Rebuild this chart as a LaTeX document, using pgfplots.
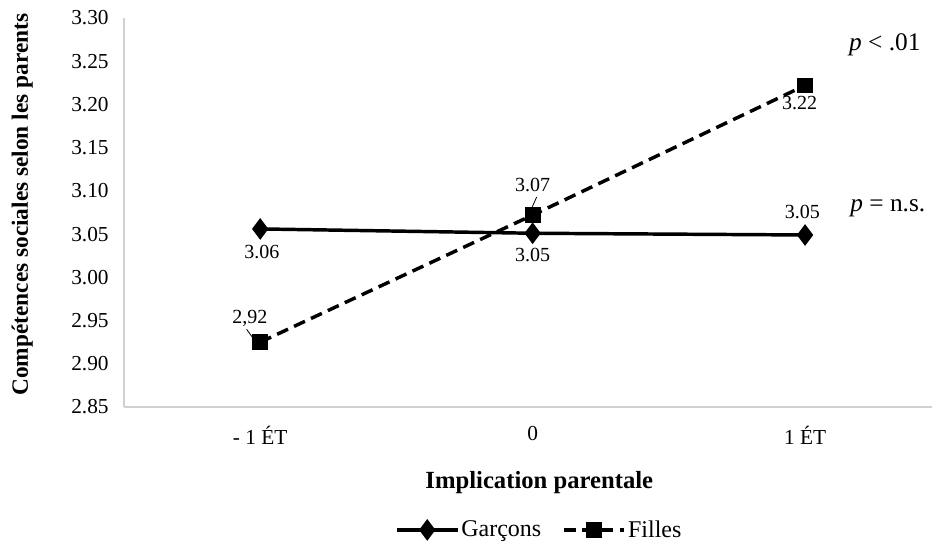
\documentclass[border=0pt]{standalone}
\usepackage{pgfplots}
\pgfplotsset{compat=1.18}
\usepackage{fontspec}
\setmainfont{Liberation Serif}
\begin{document}
\begin{tikzpicture}
\path[use as bounding box] (-93pt,-102.75pt) rectangle (606pt,305.25pt);
\begin{axis}[
  at={(0,0)}, anchor=south west,
  scale only axis, width=606pt, height=291.75pt,
  xmin=-0.5, xmax=2.466, ymin=2.85, ymax=3.30,
  xtick={0,1,2}, xticklabels={-\ 1\ ÉT, 0, 1\ ÉT},
  ytick={2.85,2.90,...,3.31},
  axis lines*=left,
  axis line style={draw=black!18, line width=1.3pt},
  major tick length=0pt,
  clip=false,
  tick label style={font=\fontsize{16}{18}\selectfont},
  /pgf/number format/.cd, fixed, fixed zerofill, precision=2, assume math mode=true,
  /pgfplots/.cd,
  yticklabel style={xshift=-8pt},
  xticklabel style={yshift=-11pt},
  xlabel={Implication parentale},
  ylabel={Compétences sociales selon les parents},
  label style={font=\fontsize{17.5}{20}\selectfont\bfseries},
  xlabel style={at={(axis description cs:0.514,-0.195)}, anchor=center, font=\fontsize{18.5}{20}\selectfont\bfseries},
  ylabel style={at={(axis description cs:-0.126,0.52)}, anchor=center},
  legend style={at={(axis description cs:0.514,-0.316)}, anchor=center, draw=none,
    font=\fontsize{18}{20}\selectfont, legend columns=2, inner sep=1pt,
    /tikz/every even column/.append style={column sep=14pt},
    nodes={inner sep=1.5pt}},
  legend cell align=left,
  legend image code/.code={\draw[mark repeat=2, mark phase=2] plot coordinates {(0cm,0cm) (0.8cm,0cm) (1.6cm,0cm)};},
]
\addplot[black, line width=2.6pt, mark=diamond*, mark size=6pt, mark options={solid}] coordinates {(0,3.056) (1,3.051) (2,3.049)};
\addlegendentry{Garçons}
\addplot[black, line width=2.6pt, dash pattern=on 9pt off 5pt, mark=square*, mark size=4.6pt, mark options={solid}] coordinates {(0,2.925) (1,3.072) (2,3.222)};
\addlegendentry{Filles}
\begin{scope}[font=\fontsize{15}{17}\selectfont]
\node at (axis cs:0.006,3.029) {3.06};
\node at (axis cs:1.0,3.026) {3.05};
\node at (axis cs:1.99,3.076) {3.05};
\node at (axis cs:-0.038,2.953) {2,92};
\node at (axis cs:1.0,3.107) {3.07};
\node at (axis cs:1.98,3.202) {3.22};
\end{scope}
\draw[black, line width=0.6pt] (axis cs:-0.05,2.940) -- (axis cs:-0.025,2.929);
\draw[black, line width=0.6pt] (axis cs:1.015,3.093) -- (axis cs:0.995,3.079);
\begin{scope}[font=\fontsize{19}{21}\selectfont]
\node at (axis cs:2.293,3.269) {\textit{p} < .01};
\node at (axis cs:2.304,3.080) {\textit{p} = n.s.};
\end{scope}
\end{axis}
\end{tikzpicture}
\end{document}
